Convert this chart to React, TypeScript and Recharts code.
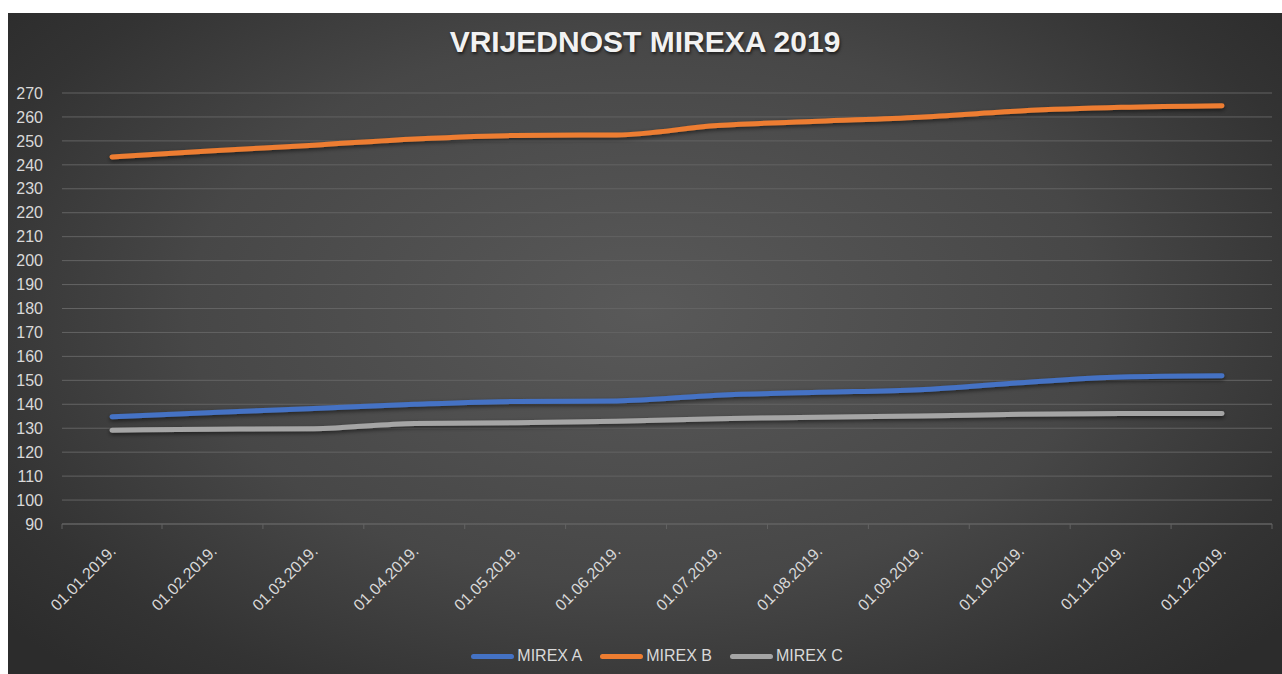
import React from 'react';
import {
  LineChart,
  Line,
  XAxis,
  YAxis,
  CartesianGrid,
} from 'recharts';

// ─── Data ─────────────────────────────────────────────────────────────────────

const MONTHS = [
  '01.01.2019.', '01.02.2019.', '01.03.2019.', '01.04.2019.',
  '01.05.2019.', '01.06.2019.', '01.07.2019.', '01.08.2019.',
  '01.09.2019.', '01.10.2019.', '01.11.2019.', '01.12.2019.',
];

const MIREX_A = [134.8, 136.6, 138.2, 140, 141.2, 141.4, 143.8, 145, 146.1, 149, 151.4, 151.9];
const MIREX_B = [243.3, 245.9, 248.2, 250.8, 252.3, 252.5, 256.4, 258.2, 259.9, 262.5, 264, 264.7];
const MIREX_C = [129.2, 129.6, 129.8, 132, 132.3, 132.9, 134, 134.6, 135.1, 135.8, 136.1, 136.2];

const Y_TICKS = [90, 100, 110, 120, 130, 140, 150, 160, 170, 180, 190, 200, 210, 220, 230, 240, 250, 260, 270];

const SERIES = [
  { key: 'a', label: 'MIREX A', color: '#4472c4' },
  { key: 'b', label: 'MIREX B', color: '#ed7d31' },
  { key: 'c', label: 'MIREX C', color: '#a5a5a5' },
];

const chartData = MONTHS.map((m, i) => ({
  month: m,
  a: MIREX_A[i],
  b: MIREX_B[i],
  c: MIREX_C[i],
}));

// ─── Styles ───────────────────────────────────────────────────────────────────

const FONT = "'Liberation Sans', Arial, sans-serif";
const TEXT = '#d9d9d9';
const GRID = '#636363';

const W = 1274;
const H = 661;

// Rotated date label + small boundary tick marks below the axis
function DateTick({ x, y, payload }: any) {
  return (
    <g>
      <line x1={x + 50} y1={y - 8} x2={x + 50} y2={y - 3} stroke={GRID} />
      {payload.index === 0 && (
        <line x1={x - 50} y1={y - 8} x2={x - 50} y2={y - 3} stroke={GRID} />
      )}
      <text
        x={x + 5}
        y={y + 20}
        transform={`rotate(-45 ${x + 5} ${y + 20})`}
        textAnchor="end"
        fill={TEXT}
        fontSize={16}
        fontFamily={FONT}
      >
        {payload.value}
      </text>
    </g>
  );
}

export default function App() {
  return (
    <div
      style={{
        position: 'absolute',
        left: 8,
        top: 13,
        width: W,
        height: H,
        overflow: 'hidden',
        background:
          'radial-gradient(ellipse 65% 75% at 50% 45%, #595959 0%, #474747 55%, #333333 85%, #2c2c2c 100%)',
      }}
    >
      <div
        style={{
          position: 'absolute',
          top: 12,
          left: 0,
          width: W,
          textAlign: 'center',
          color: '#f2f2f2',
          fontFamily: FONT,
          fontWeight: 'bold',
          fontSize: 30,
          lineHeight: '34px',
          textShadow: '1px 2px 3px rgba(0,0,0,0.6)',
        }}
      >
        VRIJEDNOST MIREXA 2019
      </div>

      <LineChart
        width={W}
        height={H}
        data={chartData}
        margin={{ top: 80, right: 10, bottom: 0, left: 0 }}
      >
        <defs>
          <filter id="lineShadow" x="-5%" y="-50%" width="110%" height="200%">
            <feDropShadow dx="0" dy="2" stdDeviation="2" floodColor="#000" floodOpacity="0.55" />
          </filter>
        </defs>

        <CartesianGrid stroke={GRID} vertical={false} />

        <XAxis
          dataKey="month"
          padding={{ left: 50, right: 50 }}
          axisLine={{ stroke: GRID }}
          tickLine={false}
          height={150}
          interval={0}
          tick={<DateTick />}
        />

        <YAxis
          domain={[90, 270]}
          ticks={Y_TICKS}
          interval={0}
          axisLine={false}
          tickLine={false}
          tickSize={0}
          tickMargin={19}
          width={54}
          tick={{ fill: TEXT, fontSize: 16, fontFamily: FONT }}
        />

        {SERIES.map((s) => (
          <Line
            key={s.key}
            type="monotone"
            dataKey={s.key}
            stroke={s.color}
            strokeWidth={5}
            strokeLinecap="round"
            dot={false}
            activeDot={false}
            filter="url(#lineShadow)"
            isAnimationActive={false}
          />
        ))}
      </LineChart>

      <div
        style={{
          position: 'absolute',
          top: 634,
          left: 12,
          width: W,
          display: 'flex',
          justifyContent: 'center',
          gap: 18,
          fontFamily: FONT,
          fontSize: 16,
          color: TEXT,
        }}
      >
        {SERIES.map((s) => (
          <div key={s.key} style={{ display: 'flex', alignItems: 'center' }}>
            <span
              style={{
                display: 'inline-block',
                width: 43,
                height: 5,
                borderRadius: 3,
                background: s.color,
                marginRight: 3,
              }}
            />
            {s.label}
          </div>
        ))}
      </div>
    </div>
  );
}
